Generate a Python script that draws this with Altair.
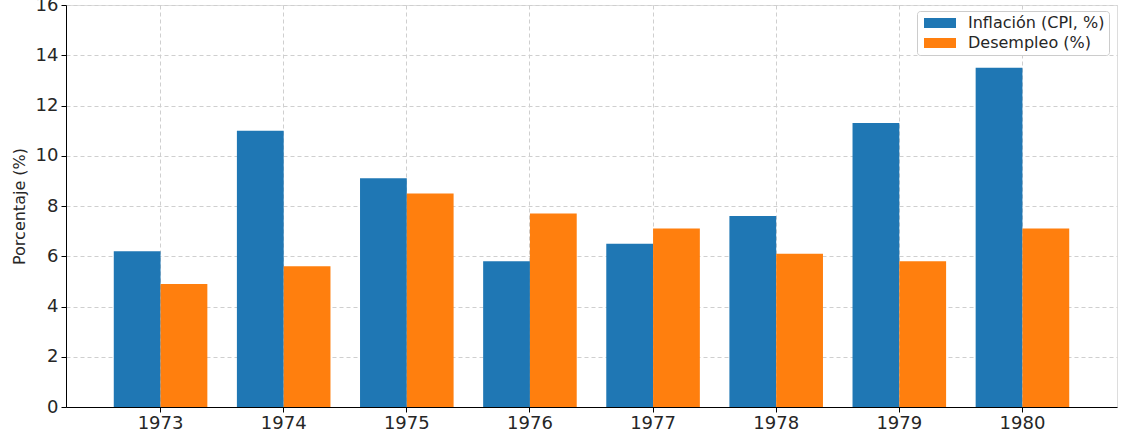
import altair as alt
import pandas as pd

years = ["1973", "1974", "1975", "1976", "1977", "1978", "1979", "1980"]
inflacion = [6.2, 11.0, 9.1, 5.8, 6.5, 7.6, 11.3, 13.5]
desempleo = [4.9, 5.6, 8.5, 7.7, 7.1, 6.1, 5.8, 7.1]
series = ["Inflación (CPI, %)", "Desempleo (%)"]
colors = ["#1f77b4", "#ff7f0e"]

rows = []
for y, a, b in zip(years, inflacion, desempleo):
    rows.append({"year": y, "serie": series[0], "valor": a})
    rows.append({"year": y, "serie": series[1], "valor": b})
df = pd.DataFrame(rows)

FONT = "DejaVu Sans"

chart = alt.Chart(df).mark_bar().encode(
    x=alt.X("year:N", sort=years, title=None,
            scale=alt.Scale(paddingInner=0.24, paddingOuter=0.388),
            axis=alt.Axis(labelAngle=0, bandPosition=0.5, grid=True,
                          gridDash=[4, 3], gridColor="#cfcfcf",
                          domainColor="#000000", tickColor="#000000",
                          tickSize=5, labelPadding=2, labelFontSize=18,
                          labelColor="#262626", labelFont=FONT)),
    xOffset=alt.XOffset("serie:N", sort=series, scale=alt.Scale(paddingInner=0, paddingOuter=0)),
    y=alt.Y("valor:Q", title="Porcentaje (%)",
            scale=alt.Scale(domain=[0, 16], nice=False),
            axis=alt.Axis(values=[0, 2, 4, 6, 8, 10, 12, 14, 16], grid=True,
                          gridDash=[4, 3], gridColor="#cfcfcf",
                          domainColor="#000000", tickColor="#000000",
                          tickSize=5, labelPadding=3, labelFontSize=18,
                          labelColor="#262626", labelFont=FONT,
                          titleFont=FONT, titleFontSize=16,
                          titleFontWeight="normal", titleColor="#262626",
                          titlePadding=8)),
    color=alt.Color("serie:N", sort=series,
                    scale=alt.Scale(domain=series, range=colors),
                    legend=alt.Legend(title=None, orient="none", legendX=851, legendY=6,
                                      symbolType="M-0.625,-0.625H3.375V0.625H-0.625Z", symbolSize=256,
                                      symbolStrokeWidth=0, symbolOpacity=1,
                                      labelFont=FONT, labelFontSize=16, labelColor="#262626",
                                      rowPadding=4, padding=4, strokeColor="#cccccc",
                                      fillColor="#ffffff", cornerRadius=3,
                                      labelOffset=31)),
).properties(
    width=1051, height=402,
    autosize=alt.AutoSizeParams(type="none"),
    padding={"left": 66, "top": 5, "right": 11, "bottom": 33},
).configure_view(stroke=None).configure(background="white")

chart.save("out.html", embed_options={"renderer": "svg", "actions": False})
